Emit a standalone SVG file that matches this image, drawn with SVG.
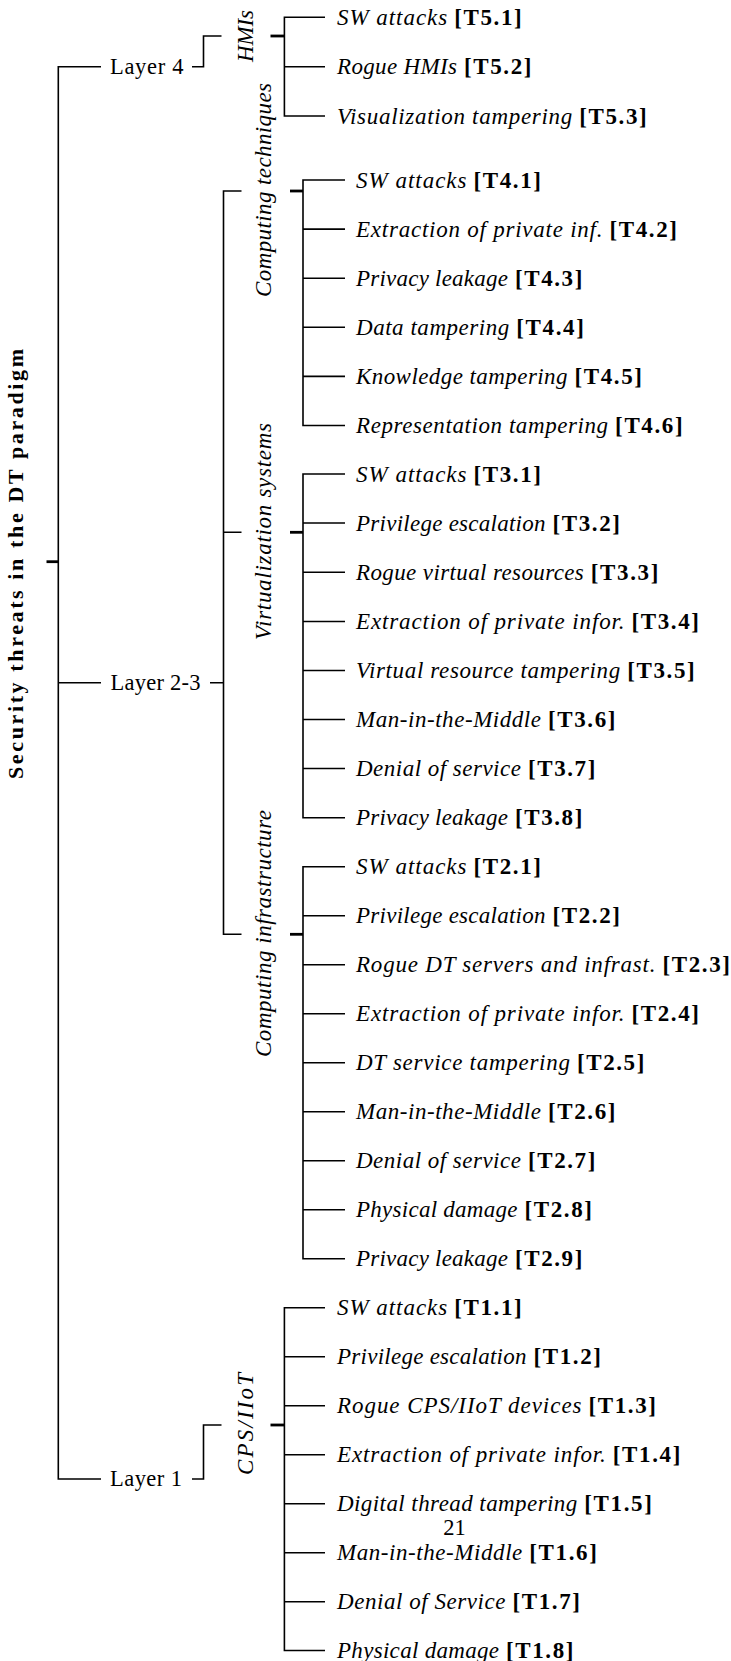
<svg xmlns="http://www.w3.org/2000/svg" width="731" height="1661" viewBox="0 0 731 1661">
  <style>
    .ln { stroke: #000; stroke-width: 1.6; fill: none; }
    .stub { stroke: #000; stroke-width: 2.8; fill: none; }
    .lf { font-family: "Liberation Serif", "Times New Roman", serif; font-size: 23px; font-style: italic; fill: #000; }
    .lf .b { font-style: normal; font-weight: bold; }
    .lay { font-family: "Liberation Serif", "Times New Roman", serif; font-size: 22.5px; fill: #000; }
    .grp { font-family: "Liberation Serif", "Times New Roman", serif; font-size: 23px; font-style: italic; fill: #000; }
    .root { font-family: "Liberation Serif", "Times New Roman", serif; font-size: 22px; font-weight: bold; fill: #000; }
  </style>
  <rect width="731" height="1661" fill="#fff"/>

  <!-- tree connectors -->
  <g id="connectors">
    <path class="ln" d="M101 66.7 H58.3 V1479 H101 M58.3 682.7 H101"/>
    <path class="stub" d="M46.5 561.7 H58.3"/>
    <path class="ln" d="M192 66.7 H203.5 V36 H221.5"/>
    <path class="ln" d="M210 682.7 H223.5 M241.5 191 H223.5 V934.3 H241.5 M223.5 532.3 H241.5"/>
    <path class="ln" d="M192 1479 H203.5 V1425 H221.5"/>
    <!-- HMIs -->
    <path class="stub" d="M270.5 36 H284.4"/>
    <path class="ln" d="M325 17.3 H284.4 V116 H325 M284.4 66.7 H325"/>
    <!-- Computing techniques -->
    <path class="stub" d="M290 191 H303"/>
    <path class="ln" d="M345 180 H303 V425.5 H345 M303 229.1 H345 M303 278.2 H345 M303 327.3 H345 M303 376.4 H345"/>
    <!-- Virtualization systems -->
    <path class="stub" d="M290 532.3 H303"/>
    <path class="ln" d="M345 474 H303 V817.7 H345 M303 523 H345 M303 572.3 H345 M303 621.5 H345 M303 670.5 H345 M303 719.5 H345 M303 768.5 H345"/>
    <!-- Computing infrastructure -->
    <path class="stub" d="M290 934.3 H303"/>
    <path class="ln" d="M345 866.7 H303 V1258.7 H345 M303 915.7 H345 M303 964.7 H345 M303 1013.7 H345 M303 1062.7 H345 M303 1111.7 H345 M303 1160.7 H345 M303 1209.7 H345"/>
    <!-- CPS/IIoT -->
    <path class="stub" d="M270.5 1425 H284.4"/>
    <path class="ln" d="M325 1307.7 H284.4 V1650.5 H325 M284.4 1356.7 H325 M284.4 1405.7 H325 M284.4 1454.7 H325 M284.4 1503.7 H325 M284.4 1552.7 H325 M284.4 1601.7 H325"/>
  </g>

  <!-- root -->
  <g id="root">
    <text class="root" transform="translate(22.7 564) rotate(-90)" text-anchor="middle" textLength="430" lengthAdjust="spacing">Security threats in the DT paradigm</text>
  </g>

  <!-- layers -->
  <g id="layer4"><text class="lay" x="110" y="73.7" textLength="73.4" lengthAdjust="spacing">Layer 4</text></g>
  <g id="layer23"><text class="lay" x="110.5" y="689.7" textLength="90" lengthAdjust="spacing">Layer 2-3</text></g>
  <g id="layer1"><text class="lay" x="110" y="1486" textLength="72" lengthAdjust="spacing">Layer 1</text></g>

  <!-- component groups -->
  <g id="hmis"><text class="grp" transform="translate(253 36) rotate(-90)" text-anchor="middle" textLength="52" lengthAdjust="spacing">HMIs</text></g>
  <g id="computing-techniques"><text class="grp" transform="translate(271 190) rotate(-90)" text-anchor="middle" textLength="214" lengthAdjust="spacing">Computing techniques</text></g>
  <g id="virtualization-systems"><text class="grp" transform="translate(271 531.5) rotate(-90)" text-anchor="middle" textLength="217" lengthAdjust="spacing">Virtualization systems</text></g>
  <g id="computing-infrastructure"><text class="grp" transform="translate(271 933.5) rotate(-90)" text-anchor="middle" textLength="247" lengthAdjust="spacing">Computing infrastructure</text></g>
  <g id="cps-iiot"><text class="grp" transform="translate(253 1424) rotate(-90)" text-anchor="middle" textLength="102" lengthAdjust="spacing">CPS/IIoT</text></g>

  <!-- threats: HMIs -->
  <g id="t5-1"><text class="lf" x="337" y="25"><tspan textLength="110.2" lengthAdjust="spacing">SW attacks</tspan> <tspan class="b" x="454.2" textLength="67.5" lengthAdjust="spacing">[T5.1]</tspan></text></g>
  <g id="t5-2"><text class="lf" x="337" y="74.4"><tspan textLength="120" lengthAdjust="spacing">Rogue HMIs</tspan> <tspan class="b" x="464" textLength="67.5" lengthAdjust="spacing">[T5.2]</tspan></text></g>
  <g id="t5-3"><text class="lf" x="337" y="123.7"><tspan textLength="235.2" lengthAdjust="spacing">Visualization tampering</tspan> <tspan class="b" x="579.2" textLength="67.5" lengthAdjust="spacing">[T5.3]</tspan></text></g>

  <!-- threats: computing techniques -->
  <g id="t4-1"><text class="lf" x="356" y="187.7"><tspan textLength="110.5" lengthAdjust="spacing">SW attacks</tspan> <tspan class="b" x="473.5" textLength="67.5" lengthAdjust="spacing">[T4.1]</tspan></text></g>
  <g id="t4-2"><text class="lf" x="356" y="236.8"><tspan textLength="246.5" lengthAdjust="spacing">Extraction of private inf.</tspan> <tspan class="b" x="609.5" textLength="67.5" lengthAdjust="spacing">[T4.2]</tspan></text></g>
  <g id="t4-3"><text class="lf" x="356" y="285.9"><tspan textLength="151.9" lengthAdjust="spacing">Privacy leakage</tspan> <tspan class="b" x="514.9" textLength="67.5" lengthAdjust="spacing">[T4.3]</tspan></text></g>
  <g id="t4-4"><text class="lf" x="356" y="335"><tspan textLength="153.3" lengthAdjust="spacing">Data tampering</tspan> <tspan class="b" x="516.3" textLength="67.5" lengthAdjust="spacing">[T4.4]</tspan></text></g>
  <g id="t4-5"><text class="lf" x="356" y="384.1"><tspan textLength="211.5" lengthAdjust="spacing">Knowledge tampering</tspan> <tspan class="b" x="574.5" textLength="67.5" lengthAdjust="spacing">[T4.5]</tspan></text></g>
  <g id="t4-6"><text class="lf" x="356" y="433.2"><tspan textLength="252.1" lengthAdjust="spacing">Representation tampering</tspan> <tspan class="b" x="615.1" textLength="67.5" lengthAdjust="spacing">[T4.6]</tspan></text></g>

  <!-- threats: virtualization systems -->
  <g id="t3-1"><text class="lf" x="356" y="481.7"><tspan textLength="110.5" lengthAdjust="spacing">SW attacks</tspan> <tspan class="b" x="473.5" textLength="67.5" lengthAdjust="spacing">[T3.1]</tspan></text></g>
  <g id="t3-2"><text class="lf" x="356" y="530.7"><tspan textLength="189.5" lengthAdjust="spacing">Privilege escalation</tspan> <tspan class="b" x="552.5" textLength="67.5" lengthAdjust="spacing">[T3.2]</tspan></text></g>
  <g id="t3-3"><text class="lf" x="356" y="580"><tspan textLength="227.8" lengthAdjust="spacing">Rogue virtual resources</tspan> <tspan class="b" x="590.8" textLength="67.5" lengthAdjust="spacing">[T3.3]</tspan></text></g>
  <g id="t3-4"><text class="lf" x="356" y="629.2"><tspan textLength="268.5" lengthAdjust="spacing">Extraction of private infor.</tspan> <tspan class="b" x="631.5" textLength="67.5" lengthAdjust="spacing">[T3.4]</tspan></text></g>
  <g id="t3-5"><text class="lf" x="356" y="678.2"><tspan textLength="264.2" lengthAdjust="spacing">Virtual resource tampering</tspan> <tspan class="b" x="627.2" textLength="67.5" lengthAdjust="spacing">[T3.5]</tspan></text></g>
  <g id="t3-6"><text class="lf" x="356" y="727.2"><tspan textLength="185" lengthAdjust="spacing">Man-in-the-Middle</tspan> <tspan class="b" x="548" textLength="67.5" lengthAdjust="spacing">[T3.6]</tspan></text></g>
  <g id="t3-7"><text class="lf" x="356" y="776.2"><tspan textLength="164.9" lengthAdjust="spacing">Denial of service</tspan> <tspan class="b" x="527.9" textLength="67.5" lengthAdjust="spacing">[T3.7]</tspan></text></g>
  <g id="t3-8"><text class="lf" x="356" y="825.4"><tspan textLength="151.9" lengthAdjust="spacing">Privacy leakage</tspan> <tspan class="b" x="514.9" textLength="67.5" lengthAdjust="spacing">[T3.8]</tspan></text></g>

  <!-- threats: computing infrastructure -->
  <g id="t2-1"><text class="lf" x="356" y="874.4"><tspan textLength="110.5" lengthAdjust="spacing">SW attacks</tspan> <tspan class="b" x="473.5" textLength="67.5" lengthAdjust="spacing">[T2.1]</tspan></text></g>
  <g id="t2-2"><text class="lf" x="356" y="923.4"><tspan textLength="189.5" lengthAdjust="spacing">Privilege escalation</tspan> <tspan class="b" x="552.5" textLength="67.5" lengthAdjust="spacing">[T2.2]</tspan></text></g>
  <g id="t2-3"><text class="lf" x="356" y="972.4"><tspan textLength="299.5" lengthAdjust="spacing">Rogue DT servers and infrast.</tspan> <tspan class="b" x="662.5" textLength="67.5" lengthAdjust="spacing">[T2.3]</tspan></text></g>
  <g id="t2-4"><text class="lf" x="356" y="1021.4"><tspan textLength="268.5" lengthAdjust="spacing">Extraction of private infor.</tspan> <tspan class="b" x="631.5" textLength="67.5" lengthAdjust="spacing">[T2.4]</tspan></text></g>
  <g id="t2-5"><text class="lf" x="356" y="1070.4"><tspan textLength="213.9" lengthAdjust="spacing">DT service tampering</tspan> <tspan class="b" x="576.9" textLength="67.5" lengthAdjust="spacing">[T2.5]</tspan></text></g>
  <g id="t2-6"><text class="lf" x="356" y="1119.4"><tspan textLength="185" lengthAdjust="spacing">Man-in-the-Middle</tspan> <tspan class="b" x="548" textLength="67.5" lengthAdjust="spacing">[T2.6]</tspan></text></g>
  <g id="t2-7"><text class="lf" x="356" y="1168.4"><tspan textLength="164.9" lengthAdjust="spacing">Denial of service</tspan> <tspan class="b" x="527.9" textLength="67.5" lengthAdjust="spacing">[T2.7]</tspan></text></g>
  <g id="t2-8"><text class="lf" x="356" y="1217.4"><tspan textLength="161.5" lengthAdjust="spacing">Physical damage</tspan> <tspan class="b" x="524.5" textLength="67.5" lengthAdjust="spacing">[T2.8]</tspan></text></g>
  <g id="t2-9"><text class="lf" x="356" y="1266.4"><tspan textLength="151.9" lengthAdjust="spacing">Privacy leakage</tspan> <tspan class="b" x="514.9" textLength="67.5" lengthAdjust="spacing">[T2.9]</tspan></text></g>

  <!-- threats: CPS/IIoT -->
  <g id="t1-1"><text class="lf" x="337" y="1315.4"><tspan textLength="110.2" lengthAdjust="spacing">SW attacks</tspan> <tspan class="b" x="454.2" textLength="67.5" lengthAdjust="spacing">[T1.1]</tspan></text></g>
  <g id="t1-2"><text class="lf" x="337" y="1364.4"><tspan textLength="189.5" lengthAdjust="spacing">Privilege escalation</tspan> <tspan class="b" x="533.5" textLength="67.5" lengthAdjust="spacing">[T1.2]</tspan></text></g>
  <g id="t1-3"><text class="lf" x="337" y="1413.4"><tspan textLength="244.5" lengthAdjust="spacing">Rogue CPS/IIoT devices</tspan> <tspan class="b" x="588.5" textLength="67.5" lengthAdjust="spacing">[T1.3]</tspan></text></g>
  <g id="t1-4"><text class="lf" x="337" y="1462.4"><tspan textLength="268.8" lengthAdjust="spacing">Extraction of private infor.</tspan> <tspan class="b" x="612.8" textLength="67.5" lengthAdjust="spacing">[T1.4]</tspan></text></g>
  <g id="t1-5"><text class="lf" x="337" y="1511.4"><tspan textLength="240.3" lengthAdjust="spacing">Digital thread tampering</tspan> <tspan class="b" x="584.3" textLength="67.5" lengthAdjust="spacing">[T1.5]</tspan></text></g>
  <g id="t1-6"><text class="lf" x="337" y="1560.4"><tspan textLength="185.3" lengthAdjust="spacing">Man-in-the-Middle</tspan> <tspan class="b" x="529.3" textLength="67.5" lengthAdjust="spacing">[T1.6]</tspan></text></g>
  <g id="t1-7"><text class="lf" x="337" y="1609.4"><tspan textLength="168.5" lengthAdjust="spacing">Denial of Service</tspan> <tspan class="b" x="512.5" textLength="67.5" lengthAdjust="spacing">[T1.7]</tspan></text></g>
  <g id="t1-8"><text class="lf" x="337" y="1658.2"><tspan textLength="162" lengthAdjust="spacing">Physical damage</tspan> <tspan class="b" x="506" textLength="67.5" lengthAdjust="spacing">[T1.8]</tspan></text></g>

  <!-- page number -->
  <text class="lay" x="454.5" y="1535" text-anchor="middle">21</text>
</svg>
